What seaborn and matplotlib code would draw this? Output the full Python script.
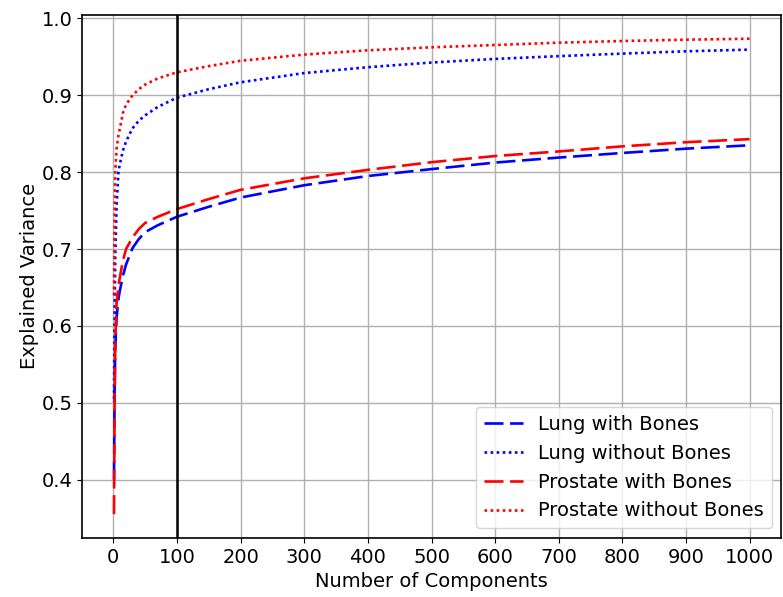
import numpy as np
import pandas as pd
import matplotlib
matplotlib.use("Agg")
import matplotlib.pyplot as plt
from matplotlib.ticker import MultipleLocator
import seaborn as sns

components = [1, 2, 3, 5, 8, 10, 15, 20, 30, 40, 50, 70, 100, 150, 200,
              300, 400, 500, 600, 700, 800, 900, 1000]

lung_bones = [0.400, 0.520, 0.570, 0.610, 0.635, 0.645, 0.665, 0.680, 0.701, 0.713, 0.722, 0.731,
              0.742, 0.755, 0.767, 0.783, 0.795, 0.804, 0.8125, 0.819, 0.825, 0.8306, 0.835]
lung_no_bones = [0.505, 0.620, 0.690, 0.755, 0.800, 0.810, 0.828, 0.840, 0.857, 0.867, 0.874, 0.885,
                 0.897, 0.908, 0.917, 0.929, 0.9366, 0.9427, 0.9474, 0.951, 0.9543, 0.9573, 0.9595]
prostate_bones = [0.355, 0.500, 0.580, 0.630, 0.652, 0.662, 0.685, 0.700, 0.715, 0.726, 0.734, 0.742,
                  0.752, 0.765, 0.777, 0.792, 0.803, 0.813, 0.821, 0.827, 0.8336, 0.839, 0.843]
prostate_no_bones = [0.640, 0.750, 0.800, 0.830, 0.848, 0.856, 0.877, 0.888, 0.900, 0.908, 0.914, 0.922,
                     0.930, 0.938, 0.945, 0.953, 0.9586, 0.9625, 0.9655, 0.9685, 0.9707, 0.9724, 0.9737]

dashed = (7.2, 2.5)
dotted = (1, 1.3)
series = [
    ("Lung with Bones", lung_bones, "blue", dashed),
    ("Lung without Bones", lung_no_bones, "blue", dotted),
    ("Prostate with Bones", prostate_bones, "red", dashed),
    ("Prostate without Bones", prostate_no_bones, "red", dotted),
]

plt.rcParams["font.family"] = ["DejaVu Sans"]
plt.rcParams["font.size"] = 14

fig, ax = plt.subplots(figsize=(7.83, 5.97), dpi=100)
fig.subplots_adjust(left=0.105, right=0.998, top=0.975, bottom=0.099)

for name, values, col, dash in series:
    df = pd.DataFrame({"Components": components, "Variance": values})
    line = sns.lineplot(data=df, x="Components", y="Variance", color=col,
                        linewidth=1.9, label=name, ax=ax)
    line.get_lines()[-1].set_dashes(dash)

ax.axvline(100, color="black", linewidth=1.8)

ax.xaxis.set_major_locator(MultipleLocator(100))
ax.grid(True, color="#b0b0b0", linewidth=1.0)
ax.set_axisbelow(True)
ax.set_xlabel("Number of Components", fontsize=14)
ax.set_ylabel("Explained Variance", fontsize=14, labelpad=2)
ax.tick_params(labelsize=14)
for sp in ax.spines.values():
    sp.set_linewidth(1.2)

leg = ax.legend(loc="lower right", fontsize=14)
for h, (_, _, _, dash) in zip(leg.get_lines(), series):
    h.set_dashes(dash)

plt.savefig("out.png", dpi=100)
